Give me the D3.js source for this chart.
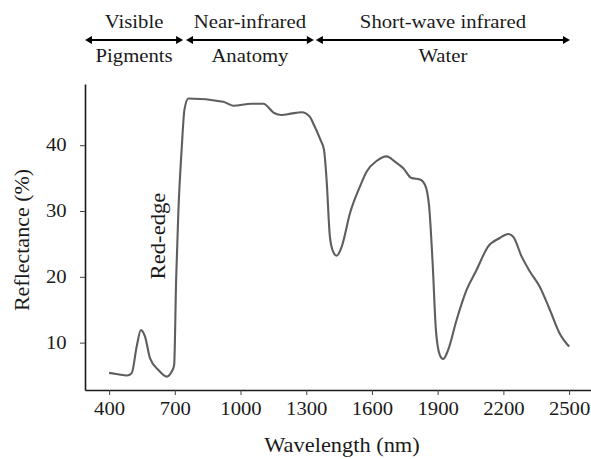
<!DOCTYPE html>
<html><head><meta charset="utf-8">
<script src="https://cdn.jsdelivr.net/npm/d3@7"></script>
<style>body{margin:0;background:#fff;}</style></head>
<body><svg id="c" width="591" height="459"></svg>
<script>
// ---- data ----
const wavelength = [400,440,481,503,526,545,564,587,625,663,686,697,706,716,732,744,762,921,967,1050,1104,1153,1188,1230,1279,1317,1332,1365,1381,1393,1408,1423,1439,1462,1500,1545,1576,1621,1667,1705,1743,1781,1819,1842,1861,1877,1892,1910,1925,1948,1986,2032,2077,2130,2184,2222,2245,2283,2321,2366,2412,2457,2500];
const reflectance = [5.4,5.2,5.0,5.35,9.4,11.9,10.9,7.6,5.85,4.83,5.6,6.6,19.5,29.7,39.8,45.4,47.1,46.6,46.0,46.3,46.3,44.9,44.6,44.8,45.0,44.3,43.3,40.8,39.3,34.7,26.1,23.8,23.2,24.6,29.7,33.7,36.0,37.6,38.3,37.5,36.5,35.0,34.8,34.0,30.7,22.1,11.9,8.1,7.5,8.9,13.4,18.0,21.0,24.6,25.9,26.5,26.1,23.1,20.8,18.5,15.0,11.4,9.4];
const xTicks = [400,700,1000,1300,1600,1900,2200,2500];
const yTicks = [10,20,30,40];
const bandTop = ["Visible","Near-infrared","Short-wave infrared"];
const bandBottom = ["Pigments","Anatomy","Water"];
const bandStart = [290,751,1344];
const bandEnd = [738,1335,2504];
const xLabel = "Wavelength (nm)";
const yLabel = "Reflectance (%)";
const annotation = "Red-edge";

// ---- layout ----
const FONT = "'Liberation Serif', serif";
const svg = d3.select("#c");
const x = d3.scaleLinear().domain([290,2600]).range([85,591]);
const y = d3.scaleLinear().domain([2.8,49.3]).range([390,84]);
const ink = "#1a1a1a";

function label(s, tx, ty, size, sx, rot){
  svg.append("text")
    .attr("transform", `translate(${tx},${ty}) rotate(${rot||0}) scale(${sx},1)`)
    .attr("text-anchor","middle")
    .style("font-family", FONT).style("fill", ink)
    .style("font-size", size+"px")
    .text(s);
}

// axes
const gx = svg.append("g").attr("transform","translate(0,390)")
  .call(d3.axisBottom(x).tickValues(xTicks).tickFormat(d3.format("d")).tickSize(5).tickSizeOuter(0).tickPadding(7));
gx.selectAll("text").style("font-size","18px").attr("transform","scale(1.15,1)");
const gy = svg.append("g").attr("transform","translate(85,0)")
  .call(d3.axisLeft(y).tickValues(yTicks).tickSize(5).tickSizeOuter(0).tickPadding(13));
gy.selectAll("text").style("font-size","18px").attr("x",-16).attr("transform","scale(1.15,1)");
svg.selectAll(".domain").attr("stroke",ink).attr("stroke-width",1.6);
svg.selectAll(".tick line").attr("stroke","#444").attr("stroke-width",1);
svg.selectAll(".tick text").style("fill",ink).style("font-family",FONT);

// curve
const pts = wavelength.map((w,i)=>[w,reflectance[i]]);
svg.append("path").datum(pts)
  .attr("fill","none").attr("stroke","#5e5e5e").attr("stroke-width",2.1)
  .attr("stroke-linejoin","round")
  .attr("d", d3.line().x(d=>x(d[0])).y(d=>y(d[1])).curve(d3.curveMonotoneX));

// band arrows
const ay = 40;
bandStart.forEach((s,i)=>{
  const x0 = x(s), x1 = x(bandEnd[i]);
  svg.append("line").attr("x1",x0+4).attr("x2",x1-4).attr("y1",ay).attr("y2",ay)
    .attr("stroke","#000").attr("stroke-width",2);
  svg.append("path").attr("d",`M${x0},${ay}L${x0+7},${ay-4}L${x0+7},${ay+4}Z`).attr("fill","#000");
  svg.append("path").attr("d",`M${x1},${ay}L${x1-7},${ay-4}L${x1-7},${ay+4}Z`).attr("fill","#000");
  const cx = (x0+x1)/2;
  label(bandTop[i], cx, 28, 18.5, 1.12);
  label(bandBottom[i], cx, 62, 18.5, 1.12);
});

// titles
label(xLabel, 342, 452, 20, 1.12);
label(yLabel, 29, 240, 20, 1.1, -90);
label(annotation, 165, 236, 21, 1.08, -90);
</script></body></html>
